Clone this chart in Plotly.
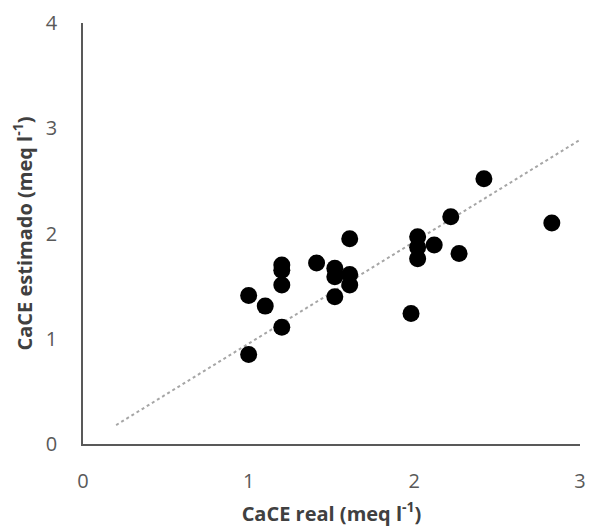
import plotly.graph_objects as go

real = [1.00, 1.10, 1.00, 1.20, 1.20, 1.20, 1.20, 1.41, 1.52, 1.52, 1.52, 1.61, 1.61, 1.61,
        2.42, 2.22, 2.02, 2.02, 2.02, 2.12, 2.27, 2.83, 1.98]
estimado = [1.41, 1.31, 0.85, 1.11, 1.51, 1.65, 1.70, 1.72, 1.67, 1.59, 1.40, 1.61, 1.51, 1.95,
            2.52, 2.16, 1.97, 1.87, 1.76, 1.89, 1.81, 2.10, 1.24]

trend_x = [0.2, 3.0]
trend_y = [0.18, 2.89]

fig = go.Figure()
fig.add_trace(go.Scatter(x=trend_x, y=trend_y, mode="lines",
                         line=dict(color="#a6a6a6", width=2, dash="dot"),
                         hoverinfo="skip", showlegend=False, cliponaxis=False))
fig.add_trace(go.Scatter(x=real, y=estimado, mode="markers",
                         marker=dict(color="black", size=17),
                         showlegend=False))

font_family = "Open Sans, Liberation Sans, sans-serif"
fig.update_layout(
    width=590, height=527,
    margin=dict(l=83, r=10, t=23, b=83),
    plot_bgcolor="white", paper_bgcolor="white",
    font=dict(family=font_family, color="#595959"),
)
fig.update_xaxes(range=[0, 3], tickvals=[0, 1, 2, 3], showgrid=False, zeroline=False,
                 showline=True, linecolor="#595959", linewidth=1.5, automargin=False,
                 ticks="outside", ticklen=18, tickcolor="rgba(0,0,0,0)",
                 tickfont=dict(size=20, color="#595959"),
                 title=dict(text="<b>CaCE real (meq l<sup>-1</sup>)</b>",
                            font=dict(size=20, color="#404040"), standoff=14))
fig.update_yaxes(range=[0, 4], tickvals=[0, 1, 2, 3, 4], showgrid=False, zeroline=False,
                 showline=True, linecolor="#595959", linewidth=1.5, automargin=False,
                 ticks="outside", ticklen=20, tickcolor="rgba(0,0,0,0)",
                 tickfont=dict(size=20, color="#595959"),
                 title=dict(text="<b>CaCE estimado (meq l<sup>-1</sup>)</b>",
                            font=dict(size=20, color="#404040"), standoff=8))

fig.write_html("out.html", config={"displayModeBar": False},
               post_script="document.body.style.margin='0';document.body.style.overflow='hidden';")
